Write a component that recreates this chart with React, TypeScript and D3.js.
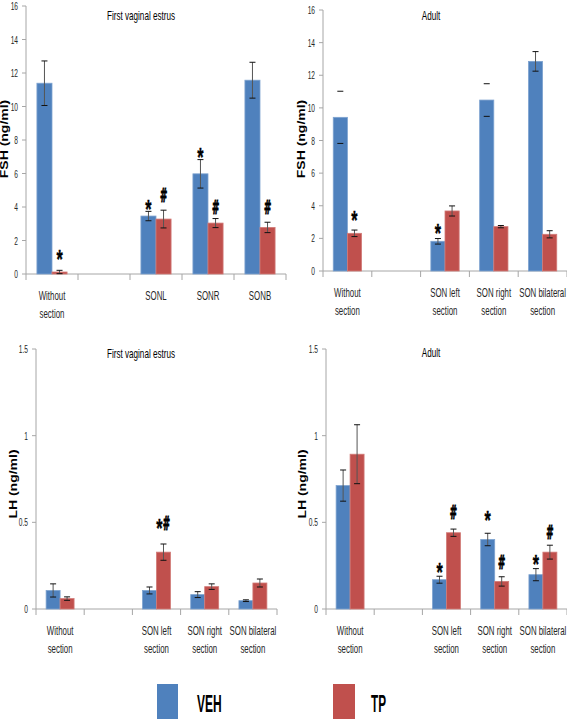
import React from 'react';
import * as d3 from 'd3';

// ---------- data ----------
const categoriesShort = ['Without\nsection', '', 'SONL', 'SONR', 'SONB'];
const categoriesLong = ['Without\nsection', '', 'SON left\nsection', 'SON right\nsection', 'SON bilateral\nsection'];
const seriesNames = ['VEH', 'TP'];
const seriesColors = ['#4F81BD', '#C0504D'];

const fshTicks = [0, 2, 4, 6, 8, 10, 12, 14, 16];
const lhTicks = [0, 0.5, 1, 1.5];

const fshFirstVeh = [11.39, null, 3.46, 5.98, 11.57];
const fshFirstVehErr = [1.33, null, 0.28, 0.85, 1.07];
const fshFirstTp = [0.12, null, 3.28, 3.04, 2.78];
const fshFirstTpErr = [0.1, null, 0.53, 0.27, 0.31];

const fshAdultVeh = [9.42, null, 1.82, 10.48, 12.85];
const fshAdultVehErr = [1.6, null, 0.17, 1.0, 0.6];
const fshAdultVehStem = [false, null, true, false, true];
const fshAdultTp = [2.31, null, 3.68, 2.72, 2.25];
const fshAdultTpErr = [0.2, null, 0.31, 0.07, 0.22];

const lhFirstVeh = [0.107, null, 0.107, 0.083, 0.048];
const lhFirstVehErr = [0.038, null, 0.02, 0.017, 0.005];
const lhFirstTp = [0.06, null, 0.328, 0.129, 0.15];
const lhFirstTpErr = [0.01, null, 0.047, 0.016, 0.023];

const lhAdultVeh = [0.712, null, 0.169, 0.401, 0.198];
const lhAdultVehErr = [0.09, null, 0.02, 0.036, 0.035];
const lhAdultTp = [0.893, null, 0.44, 0.159, 0.328];
const lhAdultTpErr = [0.17, null, 0.021, 0.027, 0.04];

// annotations: [categoryIndex, seriesIndex, value at symbol centre, symbol]
const fshFirstMarks: [number, number, number, string][] = [
  [0, 1, 1.28, '*'], [2, 0, 4.24, '*'], [2, 1, 4.72, '#'], [3, 0, 7.37, '*'], [3, 1, 4.02, '#'], [4, 1, 4.02, '#'],
];
const fshAdultMarks: [number, number, number, string][] = [
  [0, 1, 3.51, '*'], [2, 0, 2.72, '*'],
];
const lhFirstMarks: [number, number, number, string][] = [
  [2, 1, 0.493, '*#'],
];
const lhAdultMarks: [number, number, number, string][] = [
  [2, 0, 0.248, '*'], [2, 1, 0.561, '#'], [3, 0, 0.548, '*'], [3, 1, 0.273, '#'], [4, 0, 0.294, '*'], [4, 1, 0.444, '#'],
];

// ---------- layout ----------
const FONT = '"Liberation Sans", Arial, sans-serif';
const MARKFONT = '"DejaVu Sans", sans-serif';
const AXIS = '#A6A6A6';
const LABEL = '#262626';

type Panel = {
  left: number; right: number; y0: number; yTop: number; max: number; ticks: number[];
  title: string; titleX: number; titleY: number; yLabel: string; yLabelX: number; yLabelY: number;
  cats: string[]; labelY: number; veh: (number | null)[]; vehErr: (number | null)[]; tp: (number | null)[];
  tpErr: (number | null)[]; vehStem?: (boolean | null)[]; marks: [number, number, number, string][];
};

const panels: Panel[] = [
  { left: 26, right: 286, y0: 274, yTop: 6, max: 16, ticks: fshTicks, title: 'First vaginal estrus', titleX: 141, titleY: 20,
    yLabel: 'FSH (ng/ml)', yLabelX: 8, yLabelY: 139, cats: categoriesShort, labelY: 300,
    veh: fshFirstVeh, vehErr: fshFirstVehErr, tp: fshFirstTp, tpErr: fshFirstTpErr, marks: fshFirstMarks },
  { left: 323, right: 567, y0: 271, yTop: 10, max: 16, ticks: fshTicks, title: 'Adult', titleX: 431, titleY: 20,
    yLabel: 'FSH (ng/ml)', yLabelX: 305, yLabelY: 139, cats: categoriesLong, labelY: 297,
    veh: fshAdultVeh, vehErr: fshAdultVehErr, tp: fshAdultTp, tpErr: fshAdultTpErr, vehStem: fshAdultVehStem, marks: fshAdultMarks },
  { left: 36, right: 277, y0: 609, yTop: 349, max: 1.5, ticks: lhTicks, title: 'First vaginal estrus', titleX: 141, titleY: 358,
    yLabel: 'LH (ng/ml)', yLabelX: 17, yLabelY: 484, cats: categoriesLong, labelY: 635,
    veh: lhFirstVeh, vehErr: lhFirstVehErr, tp: lhFirstTp, tpErr: lhFirstTpErr, marks: lhFirstMarks },
  { left: 326, right: 567, y0: 609, yTop: 349, max: 1.5, ticks: lhTicks, title: 'Adult', titleX: 431, titleY: 357,
    yLabel: 'LH (ng/ml)', yLabelX: 306, yLabelY: 484, cats: categoriesLong, labelY: 635,
    veh: lhAdultVeh, vehErr: lhAdultVehErr, tp: lhAdultTp, tpErr: lhAdultTpErr, marks: lhAdultMarks },
];

function T(props: { x: number; y: number; sx?: number; rot?: number; anchor?: string; size: number; weight?: any; fill?: string; family?: string; stroke?: number; children: any }) {
  const { x, y, sx = 0.63, rot, anchor = 'middle', size, weight = 'normal', fill = LABEL, family = FONT, stroke, children } = props;
  return (
    <text transform={`translate(${x},${y})${rot ? ` rotate(${rot})` : ''} scale(${sx},1)`} textAnchor={anchor}
      fontSize={size} fontWeight={weight} fill={fill} fontFamily={family}
      stroke={stroke ? fill : undefined} strokeWidth={stroke}>{children}</text>
  );
}

function Star({ x, y }: { x: number; y: number }) {
  return <T x={x} y={y + 0.58 * 26} size={26} weight="bold" sx={0.62} fill="#000" stroke={0.4}>*</T>;
}
function Hash({ x, y }: { x: number; y: number }) {
  return <T x={x} y={y + 0.36 * 19} size={19} weight="bold" sx={0.46} fill="#000" family={MARKFONT} stroke={1}>#</T>;
}

function ChartPanel({ p }: { p: Panel }) {
  const y = d3.scaleLinear().domain([0, p.max]).range([p.y0, p.yTop]);
  const idx = p.cats.map((_, i) => String(i));
  const x = d3.scaleBand().domain(idx).range([p.left, p.right]).padding(0);
  const bw = x.bandwidth();
  const inner = d3.scaleBand().domain(seriesNames).range([bw * 0.21, bw * 0.79]).padding(0);
  const values = [p.veh, p.tp];
  const errs = [p.vehErr, p.tpErr];
  const fmt = (v: number) => String(v);
  const capW = 3;
  return (
    <g>
      {/* axes */}
      <line x1={p.left} x2={p.left} y1={p.y0} y2={y(p.max)} stroke={AXIS} strokeWidth={1} />
      {p.ticks.map((t) => (
        <g key={'yt' + t}>
          <line x1={p.left - 4} x2={p.left} y1={y(t)} y2={y(t)} stroke={AXIS} />
          <T x={p.left - 8} y={y(t) + 4} anchor="end" size={11} sx={0.6}>{fmt(t)}</T>
        </g>
      ))}
      <line x1={p.left} x2={p.right} y1={p.y0} y2={p.y0} stroke={AXIS} strokeWidth={1} />
      {idx.concat(['end']).map((d, i) => {
        const xx = i < idx.length ? (x(d) as number) : p.right;
        return <line key={'xt' + i} x1={xx} x2={xx} y1={p.y0} y2={p.y0 + 6} stroke={AXIS} />;
      })}
      {/* category labels */}
      {p.cats.map((c, i) => c.split('\n').map((line, j) => (
        <T key={'cl' + i + j} x={(x(String(i)) as number) + bw / 2} y={p.labelY + j * 18} size={12.5}>{line}</T>
      )))}
      {/* bars */}
      {values.map((vals, s) => vals.map((v, i) => {
        if (v == null) return null;
        const bx = (x(String(i)) as number) + (inner(seriesNames[s]) as number);
        const w = inner.bandwidth();
        return (
          <rect key={'b' + s + i} x={bx} y={y(v)} width={w} height={p.y0 - y(v)} fill={seriesColors[s]}
            stroke={s === 0 ? '#7EA3D0' : '#D27A77'} strokeWidth={0.8} />
        );
      }))}
      {/* error bars */}
      {values.map((vals, s) => vals.map((v, i) => {
        const e = errs[s][i];
        if (v == null || e == null) return null;
        const cx = (x(String(i)) as number) + (inner(seriesNames[s]) as number) + inner.bandwidth() / 2;
        const stem = s === 0 && p.vehStem ? p.vehStem[i] !== false : true;
        return (
          <g key={'e' + s + i} strokeWidth={1}>
            {stem && <line x1={cx} x2={cx} y1={y(v + e)} y2={y(v - e)} stroke="#555" />}
            <line x1={cx - capW} x2={cx + capW} y1={y(v + e)} y2={y(v + e)} stroke="#111" />
            <line x1={cx - capW} x2={cx + capW} y1={y(v - e)} y2={y(v - e)} stroke="#111" />
          </g>
        );
      }))}
      {/* significance marks */}
      {p.marks.map(([ci, s, v, sym], k) => {
        const cx = (x(String(ci)) as number) + (inner(seriesNames[s]) as number) + inner.bandwidth() / 2;
        const cy = y(v);
        if (sym === '*') return <Star key={'m' + k} x={cx} y={cy} />;
        if (sym === '#') return <Hash key={'m' + k} x={cx} y={cy} />;
        return (
          <g key={'m' + k}>
            <Star x={cx - 4} y={cy - 2} />
            <Hash x={cx + 3} y={cy} />
          </g>
        );
      })}
      {/* title & y label */}
      <T x={p.titleX} y={p.titleY} size={12.5} sx={0.65} fill="#000">{p.title}</T>
      <T x={p.yLabelX} y={p.yLabelY} rot={-90} size={10} weight="bold" sx={1.4} fill="#000">{p.yLabel}</T>
    </g>
  );
}

export default function App() {
  return (
    <svg width={567} height={719} style={{ position: 'absolute', left: 0, top: 0, background: '#fff' }}>
      <rect x={0} y={0} width={567} height={719} fill="#fff" />
      {panels.map((p, i) => <ChartPanel key={i} p={p} />)}
      {/* legend */}
      <rect x={157} y={684} width={21} height={40} fill={seriesColors[0]} />
      <T x={197} y={712} anchor="start" size={24} weight="bold" sx={0.5} fill="#000">{seriesNames[0]}</T>
      <rect x={333} y={684} width={22} height={40} fill={seriesColors[1]} />
      <T x={371} y={712} anchor="start" size={24} weight="bold" sx={0.49} fill="#000">{seriesNames[1]}</T>
    </svg>
  );
}
